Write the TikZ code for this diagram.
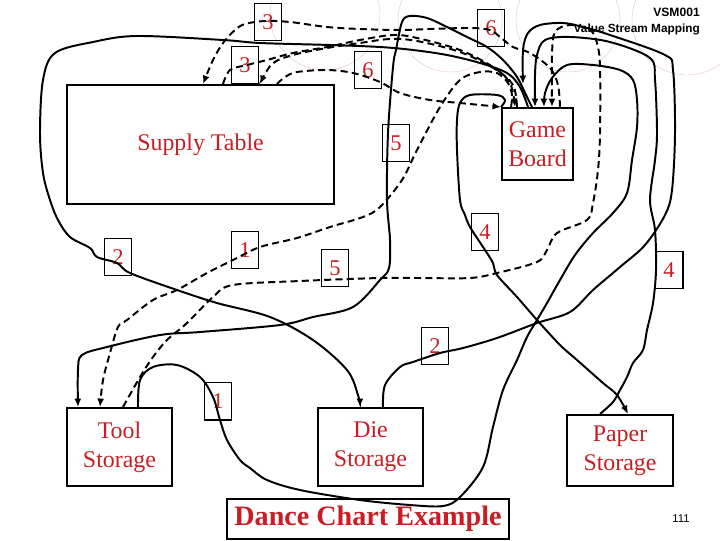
\documentclass[tikz,border=0pt]{standalone}
\usepackage{fontspec}
\setmainfont{Liberation Serif}
\setsansfont{Liberation Sans}
\usetikzlibrary{arrows.meta}
\definecolor{boxred}{RGB}{200,30,35}
\definecolor{ringpink}{RGB}{228,195,200}

\begin{document}
\begin{tikzpicture}[x=0.025cm, y=-0.025cm,
  station/.style={draw, line width=1.4pt, inner sep=0pt, align=center, text=boxred,
    font=\fontsize{17}{20.5}\selectfont},
  tally/.style={draw, line width=1.4pt, inner sep=0pt, minimum width=0.675cm,
    minimum height=0.925cm, text=boxred, font=\fontsize{16}{16}\selectfont},
  walk/.style={line width=1.4pt},
  trip/.style={line width=1.4pt, dash pattern=on 5pt off 3pt},
  arrowed/.style={-{Latex[length=6pt,width=5pt]}},
  wobbly/.style={smooth, tension=0.55}]
\useasboundingbox (0,0) rectangle (720,540);

% Rings of the slide
\draw[ringpink, line width=0.3pt] (325,15) circle [radius=1.375cm];
\draw[ringpink, line width=0.3pt] (450,20) circle [radius=1.3cm];
\draw[ringpink, line width=0.3pt] (568,20) circle [radius=1.3cm];
\draw[ringpink, line width=0.3pt] (687,20) circle [radius=1.375cm];

% Heading
\node[anchor=east, inner sep=0pt, font=\sffamily\bfseries\fontsize{8.6}{10}\selectfont] (code) at (700,12) {VSM001};
\node[anchor=east, inner sep=0pt, font=\sffamily\bfseries\fontsize{8.4}{10}\selectfont] (subtitle) at (700,29) {Value Stream Mapping};
\node[font=\sffamily\fontsize{8}{10}\selectfont] (page) at (681,519) {111};

% Stations
\node[station, minimum width=6.675cm, minimum height=2.975cm] (supply) at (200.5,144.5) {Supply Table};
\node[station, minimum width=1.775cm, minimum height=1.8cm] (board) at (537.5,144) {Game\\Board};
\node[station, minimum width=2.625cm, minimum height=1.95cm] (tools) at (119.5,447) {Tool\\Storage};
\node[station, minimum width=2.625cm, minimum height=1.95cm] (dice) at (370.5,447) {Die\\Storage};
\node[station, minimum width=2.65cm, minimum height=1.775cm] (paper) at (620,450.5) {Paper\\Storage};
\node[station, minimum width=7.05cm, minimum height=1cm,
  font=\fontsize{20}{20}\selectfont\bfseries] (title) at (368,519) {Dance Chart Example};

% Counts
\node[tally] (t3a) at (268,22) {3};
\node[tally] (t3b) at (245,65) {3};
\node[tally] (t6a) at (491,28) {6};
\node[tally] (t6b) at (368,70) {6};
\node[tally] (t5a) at (396,143) {5};
\node[tally] (t4a) at (485,232) {4};
\node[tally] (t4b) at (669,270) {4};
\node[tally] (t2a) at (118,257) {2};
\node[tally] (t1a) at (245,250) {1};
\node[tally] (t5b) at (335,268) {5};
\node[tally] (t2b) at (435,346) {2};
\node[tally] (t1b) at (218,401) {1};

\coordinate (hang) at (523,84);

% Walks
\draw[walk, arrowed] plot[wobbly] coordinates {(board.north -| 528,0) (520,87) (507,73) (480,63)
  (447,55) (413,50) (380,47) (330,45) (260,43) (223,40) (137,36) (93,42) (55,53) (43,80)
  (40,133) (43,173) (50,200) (58,220) (70,237) (90,248) (97,257) (117,263) (130,273)
  (177,290) (217,303) (270,317) (313,340) (347,370) (358,395) (dice.north -| 360,0)};
\draw[walk, arrowed] plot[wobbly] coordinates {(board.north -| 532,0) (527,97) (517,77) (503,60)
  (487,47) (467,37) (447,27) (427,18) (410,16) (402,22) (396,50) (393,67) (388,133)
  (387,200) (390,240) (389,268) (380,280) (353,307) (313,317) (280,325) (200,332)
  (160,335) (107,347) (82,355) (78,370) (tools.north -| 78,0)};
\draw[walk, arrowed] plot[wobbly] coordinates {(tools.north -| 138,0) (140,380) (153,367)
  (177,365) (200,377) (213,397) (220,420) (227,440) (240,460) (250,468) (267,480)
  (300,490) (360,500) (410,505) (443,506) (460,497) (483,467) (493,427) (503,390)
  (517,360) (527,337) (537,320) (547,303) (560,280) (575,255) (593,233) (613,213)
  (627,193) (632,160) (637,127) (637,100) (633,80) (620,70) (593,65) (567,65) (552,78)
  (545,93) (board.north -| 544,0)};
\draw[walk, arrowed] plot[wobbly] coordinates {(paper.north -| 600,0) (613,402) (620,390)
  (627,377) (633,363) (643,350) (647,330) (653,303) (656,270) (655,230) (650,200)
  (655,160) (657,133) (655,80) (650,58) (610,42) (570,37) (545,40) (537,55) (535,75)
  (board.north -| 535,0)};
\draw[walk, arrowed] plot[wobbly] coordinates {(dice.north -| 383,0) (385,385) (400,367)
  (413,362) (440,353) (463,348) (497,338) (537,323) (570,312) (593,290) (620,267)
  (645,245) (665,215) (672,190) (675,133) (673,70) (665,55) (610,35) (583,27) (563,23)
  (540,25) (528,33) (523,50) (hang)};
\draw[walk, arrowed] plot[wobbly] coordinates {(board.north west) (505,100) (497,95) (470,95)
  (460,103) (457,120) (457,150) (460,200) (465,215) (470,227) (485,250) (493,263)
  (497,275) (517,297) (537,320) (560,345) (577,360) (603,383) (617,395)
  (paper.north -| 628,0)};

% Trips
\draw[trip, arrowed] plot[wobbly] coordinates {(board.north -| 560,0) (558,85) (550,68)
  (530,53) (513,47) (500,37) (490,30) (470,28) (430,29) (400,30) (360,29) (327,27)
  (290,22) (265,21) (245,24) (235,30) (223,43) (213,60) (supply.north -| 203,0)};
\draw[trip, arrowed] plot[wobbly] coordinates {(supply.north -| 223,0) (230,70) (247,65)
  (267,60) (293,53) (327,47) (360,40) (393,35) (417,38) (460,50) (493,67) (510,83)
  (board.north -| 515,0)};
\draw[trip, arrowed] plot[wobbly] coordinates {(board.north -| 517,0) (513,85) (495,69)
  (460,52) (417,41) (390,39) (360,43) (327,48) (293,55) (272,64) (supply.north -| 260,0)};
\draw[trip, arrowed] plot[wobbly] coordinates {(supply.north -| 277,0) (285,77) (297,72)
  (327,70) (353,73) (380,82) (400,93) (430,100) (460,103) (board.north west)};
\draw[trip, arrowed] plot[wobbly] coordinates {(tools.north -| 123,0) (140,377) (153,357)
  (167,340) (187,323) (213,297) (233,285) (300,281) (380,278) (420,278) (470,278)
  (497,273) (537,262) (547,250) (557,233) (587,220) (593,203) (598,170) (600,133)
  (600,67) (597,43) (590,30) (570,25) (555,32) (552,55) (board.north -| 552,0)};
\draw[trip, arrowed] plot[wobbly] coordinates {(board.north -| 511,0) (512,95) (508,83)
  (497,73) (480,72) (460,80) (440,107) (417,150) (402,180) (380,207) (363,217) (330,227)
  (297,238) (260,247) (233,260) (207,273) (177,290) (153,300) (127,320) (118,327)
  (110,353) (103,380) (tools.north -| 100,0)};

\end{tikzpicture}
\end{document}
